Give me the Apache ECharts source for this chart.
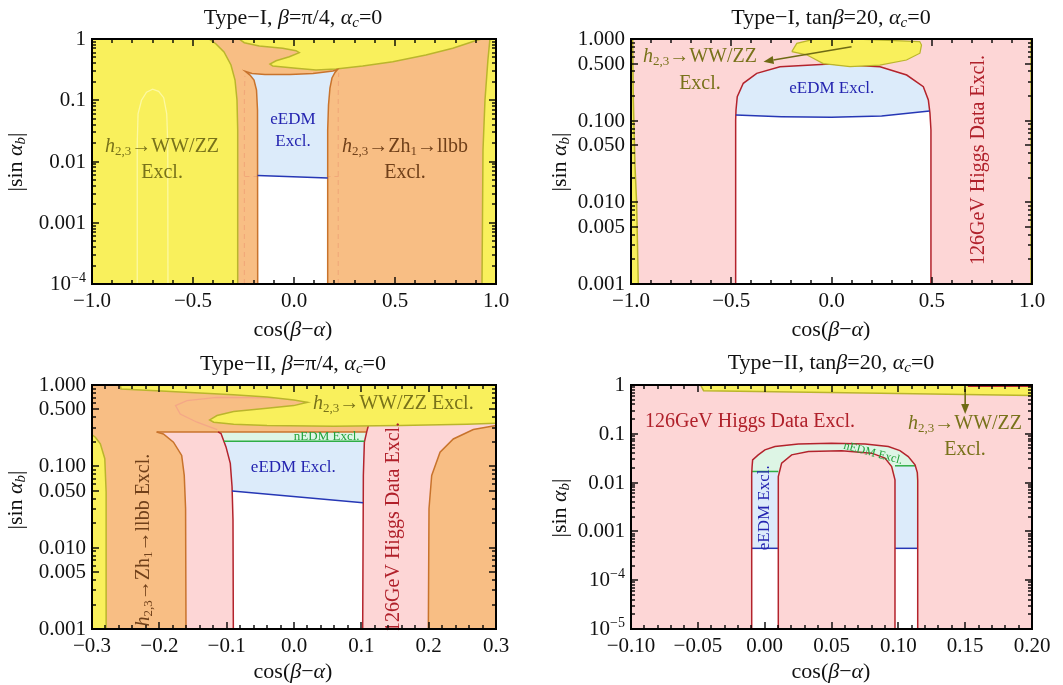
<!DOCTYPE html>
<html><head><meta charset="utf-8">
<script src="https://cdn.jsdelivr.net/npm/echarts/dist/echarts.min.js"></script>
<style>html,body{margin:0;padding:0;background:#fff}#c{width:1063px;height:685px}</style>
</head><body><div id="c"></div><script>
// ---------------- DATA ----------------
const p1OrangeLeftEdge = [[-0.2787,1e-4],[-0.2787,0.0327],[-0.2822,0.101],[-0.292,0.214],[-0.312,0.376],[-0.3465,0.613],[-0.386,0.829],[-0.421,1]];
const p1OrangeRightEdge = [[0.970,1],[0.960,0.454],[0.9455,0.101],[0.9356,0.0154],[0.9307,1e-4]];
const p1Tongue = [[-0.272,1],[-0.246,0.87],[-0.172,0.769],[-0.056,0.705],[0.010,0.644],[0.026,0.597],[-0.023,0.514],[-0.089,0.442],[-0.119,0.391],[-0.105,0.362],[0.010,0.332],[0.109,0.312],[0.208,0.324],[0.340,0.362],[0.489,0.426],[0.653,0.548],[0.786,0.705],[0.868,0.870],[0.909,0.963],[0.93,1]];
const p1Allowed = [[-0.1797,1e-4],[-0.1807,0.0693],[-0.1856,0.147],[-0.198,0.214],[-0.2178,0.258],[-0.2401,0.2947],[-0.208,0.2735],[-0.1436,0.2633],[-0.0198,0.2633],[0.094,0.2735],[0.193,0.30],[0.2153,0.318],[0.203,0.284],[0.188,0.231],[0.178,0.1585],[0.1708,0.0836],[0.1668,0.0327],[0.1668,1e-4]];
const p1EedmLine = [[-0.1802,0.0059],[-0.005,0.00563],[0.1668,0.00538]];
const p1Arch = [[-0.776,1e-4],[-0.776,0.02],[-0.772,0.06],[-0.755,0.1],[-0.73,0.135],[-0.70,0.152],[-0.67,0.14],[-0.645,0.11],[-0.63,0.06],[-0.625,0.02],[-0.624,1e-4]];
const p1FaintL = [[-0.2455,1e-4],[-0.2455,0.12],[-0.243,0.25]];
const p1FaintR = [[0.219,1e-4],[0.219,0.12],[0.221,0.28]];
const p1FaintH = [[-0.245,0.0057],[0.221,0.0057]];
const p1YTicks = [1e-4,1e-3,1e-2,0.1,1];
const p1YLabels = ['10^−4','0.001','0.01','0.1','1'];

const p2StripLEdge = [[-0.9636,0.001],[-0.972,0.01],[-0.98,0.0274],[-0.9884,0.179],[-0.9917,1]];
const p2StripREdge = [[0.994,0.001],[0.994,1]];
const p2Allowed = [[-0.478,0.001],[-0.478,0.102],[-0.4763,0.135],[-0.470,0.197],[-0.440,0.287],[-0.373,0.380],[-0.257,0.458],[-0.0075,0.494],[0.242,0.458],[0.375,0.362],[0.458,0.261],[0.483,0.179],[0.491,0.124],[0.496,0.0769],[0.496,0.001]];
const p2EedmLine = [[-0.477,0.117],[-0.25,0.112],[0.0,0.110],[0.25,0.114],[0.489,0.131]];
const p2Blob = [[-0.198,0.70],[-0.173,0.885],[-0.09,0.99],[0.158,0.99],[0.44,0.93],[0.449,0.845],[0.441,0.67],[0.374,0.553],[0.241,0.48],[0.092,0.458],[-0.041,0.50],[-0.124,0.64]];
const p2Arrow = [[0.10,0.805],[-0.339,0.527]];
const p2YTicks = [0.001,0.005,0.01,0.05,0.1,0.5,1];
const p2YLabels = ['0.001','0.005','0.010','0.050','0.100','0.500','1.000'];

const p3StripEdge = [[-0.279,0.001],[-0.279,0.048],[-0.281,0.124],[-0.2876,0.189],[-0.295,0.228],[-0.3,0.244]];
const p3Faint = [[-0.03,0.69],[-0.07,0.70],[-0.1144,0.706],[-0.159,0.643],[-0.176,0.558],[-0.169,0.441],[-0.144,0.349],[-0.114,0.283]];
const p3TopLine = [[-0.204,0.265],[0.108,0.265]];
const p3BrownL = [[-0.1604,0.001],[-0.161,0.0301],[-0.163,0.0774],[-0.1668,0.136],[-0.179,0.198],[-0.194,0.25],[-0.204,0.265]];
const p3RedL = [[-0.1129,0.265],[-0.1084,0.2534],[-0.101,0.1734],[-0.0946,0.1086],[-0.092,0.0561],[-0.0906,0.0219],[-0.0901,0.001]];
const p3RedR = [[0.102,0.001],[0.103,0.0773],[0.1045,0.198],[0.108,0.265],[0.1104,0.316]];
const p3BrownR = [[0.1995,0.001],[0.2005,0.0301],[0.2045,0.0773],[0.2169,0.149],[0.2366,0.217],[0.2663,0.284],[0.3,0.318]];
const p3NedmLine = [[-0.104,0.204],[0.1045,0.204]];
const p3EedmLine = [[-0.092,0.0496],[0.1025,0.0357]];
const p3Band = [[-0.258,1],[-0.2569,0.893],[-0.19,0.84],[-0.14,0.80],[-0.09,0.76],[-0.04,0.71],[0.0,0.655],[0.02,0.612],[-0.0005,0.558],[-0.0401,0.518],[-0.0896,0.471],[-0.1144,0.421],[-0.1252,0.372],[-0.1193,0.349],[-0.0896,0.330],[-0.0401,0.317],[0.0589,0.311],[0.1579,0.317],[0.2569,0.330],[0.3,0.339]];
const p3YTicks = [0.001,0.005,0.01,0.05,0.1,0.5,1];
const p3YLabels = ['0.001','0.005','0.010','0.050','0.100','0.500','1.000'];

const p4Outer = [[-0.0097,1e-5],[-0.0097,0.015],[-0.0094,0.0213],[-0.0090,0.0292],[-0.0048,0.0370],[0.0002,0.0469],[0.0077,0.0547],[0.0252,0.0621],[0.050,0.0642],[0.0751,0.0617],[0.0925,0.0547],[0.1012,0.0453],[0.1074,0.0342],[0.1125,0.0231],[0.1142,0.016],[0.1145,0.0110],[0.1145,1e-5]];
const p4Inner = [[0.0102,1e-5],[0.0102,0.0133],[0.0127,0.0251],[0.0202,0.0370],[0.0327,0.0433],[0.0576,0.0447],[0.0801,0.0401],[0.0900,0.0317],[0.0950,0.0213],[0.0975,0.0114],[0.0975,1e-5]];
const p4NedmL = [[-0.0097,0.0169],[0.0102,0.0169]];
const p4NedmR = [[0.0975,0.0221],[0.1128,0.0221]];
const p4EedmL = [[-0.0097,4.5e-4],[0.0102,4.5e-4]];
const p4EedmR = [[0.0975,4.5e-4],[0.1145,4.5e-4]];
const p4BandEdge = [[-0.048,1],[-0.0457,0.766],[0.0738,0.687],[0.2,0.61]];
const p4RedTop = [[0.152,0.97],[0.2,0.97]];
const p4Arrow = [[0.15,0.83],[0.15,0.255]];
const p4YTicks = [1e-5,1e-4,1e-3,0.01,0.1,1];
const p4YLabels = ['10^−5','10^−4','0.001','0.01','0.1','1'];

// ---------------- STYLE ----------------
const FONT = "'Liberation Serif', 'DejaVu Serif', serif";
const YEL='#F9F05C', ORG='#F8BE84', BLU='#DCEBFA', PNK='#FDD6D6', GRN='#DDF5E5', WHT='#FFFFFF';
const OLV='#BAB52C', BRN='#C8732C', RED='#B3232C', BLL='#2637B5', GRL='#2FAE46';
const T_OLV='#78721A', T_BRN='#70401A', T_BLU='#2424B0', T_RED='#B0202A', T_GRN='#22A23A';
const FRAME='#000000';
const TICKFS = 21, TITLEFS = 22;

const panels = [
  {x:[-1,1], xi:0.5, xm:0.1, dec:1, y:[1e-4,1], bg:YEL, yt:p1YTicks, yl:p1YLabels, grid:{left:92, top:39, width:404, height:245}},
  {x:[-1,1], xi:0.5, xm:0.1, dec:1, y:[1e-3,1], bg:PNK, yt:p2YTicks, yl:p2YLabels, grid:{left:631, top:39, width:401, height:245}},
  {x:[-0.3,0.3], xi:0.1, xm:0.02, dec:1, y:[1e-3,1], bg:ORG, yt:p3YTicks, yl:p3YLabels, grid:{left:92, top:385, width:404, height:244}},
  {x:[-0.1,0.2], xi:0.05, xm:0.01, dec:2, y:[1e-5,1], bg:PNK, yt:p4YTicks, yl:p4YLabels, grid:{left:631, top:385, width:401, height:244}}
];

function rich(size, color) {
  const b = {fontFamily: FONT, fontSize: size, fill: color, color: color, lineHeight: Math.round(size*1.15)};
  const sm = Math.round(size*0.66);
  return {
    n: Object.assign({}, b),
    i: Object.assign({}, b, {fontStyle:'italic'}),
    s: {fontFamily: FONT, fontSize: sm, fill: color, color: color, verticalAlign:'bottom'},
    si: {fontFamily: FONT, fontSize: sm, fill: color, color: color, fontStyle:'italic', verticalAlign:'bottom'},
    p: {fontFamily: FONT, fontSize: sm, fill: color, color: color, verticalAlign:'top'}
  };
}
function T(s){ return s.indexOf('{') >= 0 ? s : '{n|' + s + '}'; }
function textEl(x, y, txt, size, color, rot, align) {
  return {type:'text', x:x, y:y, rotation: rot || 0, silent:true,
    style:{text:T(txt), rich:rich(size,color), fontFamily:FONT, fontSize:size, fill:color,
      textAlign: align||'center', align: align||'center', textVerticalAlign:'middle', verticalAlign:'middle'}};
}

// ---------------- SERIES BUILDERS ----------------
const series = [];
function layer(g, L) {
  series.push({type:'custom', coordinateSystem:'cartesian2d', xAxisIndex:2*g, yAxisIndex:2*g,
    clip:true, silent:true, animation:false, z:2, data:[L.pts[0]],
    renderItem:(params, api) => {
      const pts = L.pts.map(p => api.coord(p));
      const ch = [];
      if (L.fill) ch.push({type:'polygon', shape:{points:pts}, style:{fill:L.fill, stroke:null}});
      if (L.stroke) ch.push({type:'polyline', shape:{points: L.closed ? pts.concat([pts[0]]) : pts},
        style:{fill:'none', stroke:L.stroke, lineWidth:L.lw||1.5, lineDash:L.dash||null}});
      return {type:'group', children:ch};
    }});
}
function arrow(g, pts, color) {
  series.push({type:'custom', coordinateSystem:'cartesian2d', xAxisIndex:2*g, yAxisIndex:2*g,
    clip:false, silent:true, animation:false, z:4, data:[pts[0]],
    renderItem:(params, api) => {
      const a = api.coord(pts[0]), b = api.coord(pts[pts.length-1]);
      const dx=b[0]-a[0], dy=b[1]-a[1], L=Math.hypot(dx,dy), ux=dx/L, uy=dy/L, hl=10, hw=4;
      const base=[b[0]-ux*hl, b[1]-uy*hl];
      return {type:'group', children:[
        {type:'line', shape:{x1:a[0],y1:a[1],x2:base[0],y2:base[1]}, style:{stroke:color, lineWidth:1.6}},
        {type:'polygon', shape:{points:[b,[base[0]-uy*hw, base[1]+ux*hw],[base[0]+uy*hw, base[1]-ux*hw]]}, style:{fill:color}}
      ]};
    }});
}
function labels(g, list) {
  series.push({type:'custom', coordinateSystem:'cartesian2d', xAxisIndex:2*g, yAxisIndex:2*g,
    clip:false, silent:true, animation:false, z:5, data:list.map(l => [l.x, l.y]),
    renderItem:(params, api) => {
      const l = list[params.dataIndex];
      const p = api.coord([l.x, l.y]);
      return textEl(p[0], p[1], l.t, l.size, l.color, l.rot);
    }});
}
function minorLog(min, max, majors) {
  const out = [];
  for (let e = Math.floor(Math.log10(min)); e < Math.log10(max); e++)
    for (let k = 2; k <= 9; k++) {
      const v = k * Math.pow(10, e);
      if (v > min*1.0001 && v < max*0.9999 && !majors.some(m => Math.abs(m - v)/v < 1e-6)) out.push(v);
    }
  return out;
}
function frame(g) {
  const P = panels[g];
  const majors = P.yt, labs = P.yl, minors = minorLog(P.y[0], P.y[1], majors);
  const items = [];
  majors.forEach((v,i) => items.push({k:'y', v:v, lab:labs[i], len:7}));
  minors.forEach(v => items.push({k:'y', v:v, lab:null, len:4}));
  const nx = Math.round((P.x[1]-P.x[0])/P.xm);
  for (let k = 0; k <= nx; k++) {
    const v = P.x[0] + k*P.xm;
    const r = (v - P.x[0]) / P.xi;
    items.push({k:'x', v:v, len: Math.abs(r - Math.round(r)) < 1e-6 ? 7 : 4});
  }
  const box = (x0, y0, x1, y1) => ({type:'rect', shape:{x:Math.min(x0,x1), y:Math.min(y0,y1), width:Math.abs(x1-x0), height:Math.abs(y1-y0)}, style:{fill:FRAME, stroke:null}});
  series.push({type:'custom', coordinateSystem:'cartesian2d', xAxisIndex:2*g, yAxisIndex:2*g,
    clip:false, silent:true, animation:false, z:5,
    data:items.map(t => t.k === 'y' ? [P.x[0], t.v] : [t.v, P.y[0]]),
    renderItem:(params, api) => {
      const t = items[params.dataIndex];
      const bl = api.coord([P.x[0], P.y[0]]), tr = api.coord([P.x[1], P.y[1]]);
      const L = bl[0], B = bl[1], R = tr[0], Tp = tr[1];
      const ch = [];
      if (t.k === 'y') {
        const y = Math.round(api.coord([P.x[0], t.v])[1]);
        ch.push(box(L, y - 0.7, L + t.len, y + 0.7));
        ch.push(box(R - t.len, y - 0.7, R, y + 0.7));
        if (t.lab) {
          const xr = L - 6;
          const parts = t.lab.split('^');
          if (parts.length === 2) {
            ch.push(textEl(xr - 15, y, parts[0], TICKFS, '#111', 0, 'right'));
            ch.push({type:'text', x:xr - 15, y:y - 6, silent:true, style:{text:parts[1], fontFamily:FONT, fontSize:14, fill:'#111',
              textAlign:'left', align:'left', textVerticalAlign:'middle', verticalAlign:'middle'}});
          } else {
            ch.push(textEl(xr, y, parts[0], TICKFS, '#111', 0, 'right'));
          }
        }
      } else {
        const x = Math.round(api.coord([t.v, P.y[0]])[0]);
        ch.push(box(x - 0.7, B, x + 0.7, B - t.len));
        ch.push(box(x - 0.7, Tp, x + 0.7, Tp + t.len));
      }
      return {type:'group', children:ch};
    }});
}
const bottomY = g => panels[g].y[0];
const rev = a => a.slice().reverse();

// ---------------- PANEL 1 ----------------
layer(0, {pts:p1Arch, stroke:'rgba(253,250,170,0.9)', lw:1.3});
layer(0, {pts:p1OrangeLeftEdge.concat(p1OrangeRightEdge), fill:ORG});
layer(0, {pts:p1FaintL, stroke:'rgba(225,120,95,0.3)', lw:1.1, dash:[5,4]});
layer(0, {pts:p1FaintR, stroke:'rgba(225,120,95,0.3)', lw:1.1, dash:[5,4]});
layer(0, {pts:p1FaintH, stroke:'rgba(225,120,95,0.3)', lw:1.1, dash:[5,4]});
layer(0, {pts:p1OrangeLeftEdge, stroke:OLV});
layer(0, {pts:p1OrangeRightEdge, stroke:OLV});
layer(0, {pts:p1Tongue, fill:YEL});
layer(0, {pts:p1Tongue, stroke:OLV});
layer(0, {pts:p1Allowed, fill:BLU});
layer(0, {pts:p1EedmLine.concat([[p1EedmLine[2][0], bottomY(0)],[p1EedmLine[0][0], bottomY(0)]]), fill:WHT});
layer(0, {pts:p1Allowed, stroke:BRN});
layer(0, {pts:p1EedmLine, stroke:BLL});
labels(0, [
  {x:-0.653, y:0.01725, t:'{i|h}{s|2,3}{n|→WW/ZZ}', size:20, color:T_OLV},
  {x:-0.653, y:0.00649, t:'Excl.', size:20, color:T_OLV},
  {x:-0.005, y:0.0476, t:'eEDM', size:17, color:T_BLU},
  {x:-0.005, y:0.0208, t:'Excl.', size:17, color:T_BLU},
  {x:0.5495, y:0.01725, t:'{i|h}{s|2,3}{n|→Zh}{s|1}{n|→llbb}', size:20, color:T_BRN},
  {x:0.5495, y:0.00649, t:'Excl.', size:20, color:T_BRN}
]);

// ---------------- PANEL 2 ----------------
layer(1, {pts:[[-1,bottomY(1)]].concat(p2StripLEdge, [[-1,1]]), fill:YEL});
layer(1, {pts:p2StripLEdge, stroke:OLV});
layer(1, {pts:p2StripREdge.concat([[1,1],[1,bottomY(1)]]), fill:YEL});
layer(1, {pts:p2StripREdge, stroke:OLV, lw:1});
layer(1, {pts:p2Allowed, fill:BLU});
layer(1, {pts:p2EedmLine.concat(p2Allowed.filter(p => p[0] > 0 && p[1] < 0.12), p2Allowed.filter(p => p[0] < 0 && p[1] < 0.11)), fill:WHT});
layer(1, {pts:p2Allowed, stroke:RED});
layer(1, {pts:p2EedmLine, stroke:BLL});
layer(1, {pts:p2Blob, fill:YEL, stroke:OLV, closed:true, lw:1.2});
arrow(1, p2Arrow, '#6E6A14');
labels(1, [
  {x:-0.656, y:0.607, t:'{i|h}{s|2,3}{n|→WW/ZZ}', size:20, color:T_OLV},
  {x:-0.656, y:0.287, t:'Excl.', size:20, color:T_OLV},
  {x:0.001, y:0.249, t:'eEDM Excl.', size:17, color:T_BLU},
  {x:0.732, y:0.033, t:'126GeV Higgs Data Excl.', size:20, color:T_RED, rot:Math.PI/2}
]);

// ---------------- PANEL 3 ----------------
layer(2, {pts:[[-0.3,bottomY(2)]].concat(p3StripEdge), fill:YEL});
layer(2, {pts:p3StripEdge, stroke:OLV});
layer(2, {pts:p3Faint, stroke:'rgba(240,140,140,0.45)', lw:1.2});
layer(2, {pts:p3RedL.concat(p3BrownL), fill:PNK});
layer(2, {pts:rev(p3RedR.slice(0,4)).concat(rev(p3RedL)), fill:WHT});
layer(2, {pts:[p3RedL[0], p3RedR[3]].concat(rev(p3NedmLine), [p3RedL[1]]), fill:GRN});
layer(2, {pts:p3NedmLine.concat([p3RedR[1]], rev(p3EedmLine), [p3RedL[3], p3RedL[2]]), fill:BLU});
layer(2, {pts:p3RedR.concat([[0.115,0.36],[0.3,0.36]], rev(p3BrownR)), fill:PNK});
layer(2, {pts:p3TopLine, stroke:BRN});
layer(2, {pts:p3BrownL, stroke:BRN});
layer(2, {pts:p3BrownR, stroke:BRN});
layer(2, {pts:p3RedL, stroke:RED});
layer(2, {pts:p3RedR, stroke:RED});
layer(2, {pts:p3NedmLine, stroke:GRL});
layer(2, {pts:p3EedmLine, stroke:BLL});
layer(2, {pts:p3Band.concat([[0.3,1]]), fill:YEL});
layer(2, {pts:p3Band, stroke:OLV});
labels(2, [
  {x:0.1475, y:0.585, t:'{i|h}{s|2,3}{n|→WW/ZZ Excl.}', size:20, color:T_OLV},
  {x:0.0486, y:0.235, t:'nEDM Excl.', size:13, color:T_GRN},
  {x:-0.001, y:0.0978, t:'eEDM Excl.', size:17, color:T_BLU},
  {x:-0.2238, y:0.0124, t:'{i|h}{s|2,3}{n|→Zh}{s|1}{n|→llbb Excl.}', size:20, color:T_BRN, rot:Math.PI/2},
  {x:0.1475, y:0.018, t:'126GeV Higgs Data Excl.', size:20, color:T_RED, rot:Math.PI/2}
]);

// ---------------- PANEL 4 ----------------
layer(3, {pts:p4Outer, fill:GRN});
layer(3, {pts:[p4EedmL[0], p4NedmL[0], p4NedmL[1], p4EedmL[1]], fill:BLU});
layer(3, {pts:[p4EedmR[0], p4NedmR[0], p4NedmR[1], p4EedmR[1]], fill:BLU});
layer(3, {pts:[[p4EedmL[0][0],bottomY(3)], p4EedmL[0], p4EedmL[1], [p4EedmL[1][0],bottomY(3)]], fill:WHT});
layer(3, {pts:[[p4EedmR[0][0],bottomY(3)], p4EedmR[0], p4EedmR[1], [p4EedmR[1][0],bottomY(3)]], fill:WHT});
layer(3, {pts:p4Inner, fill:PNK});
layer(3, {pts:p4NedmL, stroke:GRL});
layer(3, {pts:p4NedmR, stroke:GRL});
layer(3, {pts:p4EedmL, stroke:BLL});
layer(3, {pts:p4EedmR, stroke:BLL});
layer(3, {pts:p4Inner, stroke:RED});
layer(3, {pts:p4Outer, stroke:RED});
layer(3, {pts:p4BandEdge.concat([[0.2,1]]), fill:YEL});
layer(3, {pts:p4BandEdge, stroke:OLV});
layer(3, {pts:p4RedTop, stroke:RED, lw:2.5});
arrow(3, p4Arrow, '#6E6A14');
labels(3, [
  {x:-0.011, y:0.175, t:'126GeV Higgs Data Excl.', size:20, color:T_RED},
  {x:0.1499, y:0.162, t:'{i|h}{s|2,3}{n|→WW/ZZ}', size:20, color:T_OLV},
  {x:0.1499, y:0.0462, t:'Excl.', size:20, color:T_OLV},
  {x:0.0811, y:0.040, t:'nEDM Excl.', size:12, color:T_GRN, rot:-0.26},
  {x:-0.0001, y:0.00305, t:'eEDM Excl.', size:17, color:T_BLU, rot:Math.PI/2}
]);

for (let g = 0; g < 4; g++) frame(g);

// ---------------- AXES ----------------
const grids = [], xAxes = [], yAxes = [];
panels.forEach((P, g) => {
  grids.push(Object.assign({show:true, backgroundColor:P.bg, borderWidth:0, containLabel:false, outerBoundsMode:'none'}, P.grid));
  const fmt = v => { const s = (Math.abs(v) < 1e-9 ? 0 : v).toFixed(P.dec); return s.replace('-', '−'); };
  const xc = {type:'value', gridIndex:g, min:P.x[0], max:P.x[1], interval:P.xi,
    axisLine:{show:false, onZero:false}, axisTick:{show:false}, minorTick:{show:false},
    splitLine:{show:false}, minorSplitLine:{show:false}};
  xAxes.push(Object.assign({}, xc, {position:'bottom',
    axisLabel:{show:true, margin:7, fontFamily:FONT, fontSize:TICKFS, color:'#111', formatter:fmt, showMinLabel:true, showMaxLabel:true, hideOverlap:false}}));
  xAxes.push(Object.assign({}, xc, {position:'top', axisLabel:{show:false}}));
  const yc = {type:'log', logBase:10, gridIndex:g, min:P.y[0], max:P.y[1],
    axisLine:{show:false, onZero:false}, axisTick:{show:false}, minorTick:{show:false}, axisLabel:{show:false}, splitLine:{show:false}};
  yAxes.push(Object.assign({}, yc, {position:'left'}));
  yAxes.push(Object.assign({}, yc, {position:'right'}));
});

// ---------------- TEXT (titles / axis names) + plot frames ----------------
const titles = [
  {x:293, y:18, t:'{n|Type−I, }{i|β}{n|=π/4, }{i|α}{si|c}{n|=0}'},
  {x:831, y:18, t:'{n|Type−I, tan}{i|β}{n|=20, }{i|α}{si|c}{n|=0}'},
  {x:293, y:364, t:'{n|Type−II, }{i|β}{n|=π/4, }{i|α}{si|c}{n|=0}'},
  {x:831, y:363, t:'{n|Type−II, tan}{i|β}{n|=20, }{i|α}{si|c}{n|=0}'}
];
const xNames = [{x:293, y:330}, {x:831, y:330}, {x:293, y:672}, {x:831, y:672}];
const yNames = [{x:16, y:162}, {x:560, y:162}, {x:16, y:500}, {x:560, y:508}];
const graphic = [];
panels.forEach(P => {
  const G = P.grid;
  graphic.push({type:'rect', z:100, silent:true, shape:{x:G.left, y:G.top, width:G.width, height:G.height},
    style:{fill:null, stroke:'#000000', lineWidth:2}});
});
titles.forEach(o => graphic.push(textEl(o.x, o.y, o.t, TITLEFS, '#111', 0)));
xNames.forEach(o => graphic.push(textEl(o.x, o.y, '{n|cos(}{i|β}{n|−}{i|α}{n|)}', TITLEFS, '#111', 0)));
yNames.forEach(o => graphic.push(textEl(o.x, o.y, '{n||sin }{i|α}{si|b}{n||}', TITLEFS, '#111', Math.PI/2)));

const chart = echarts.init(document.getElementById('c'), null, {renderer:'canvas', width:1063, height:685});
chart.setOption({
  animation:false,
  backgroundColor:'#ffffff',
  grid:grids, xAxis:xAxes, yAxis:yAxes,
  series:series,
  graphic:{elements:graphic}
});
</script></body></html>
